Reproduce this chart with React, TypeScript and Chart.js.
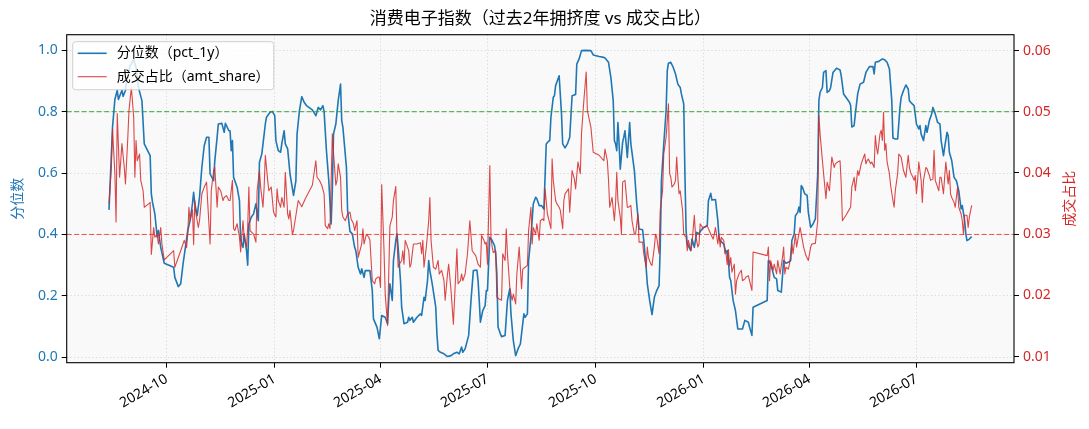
import { useEffect, useRef } from 'react'
import { Chart, registerables } from 'chart.js'

Chart.register(...registerables)

const FONT = "'Noto Sans', 'Noto Sans CJK SC', sans-serif"
const BLUE = '#1f77b4'
const RED = '#d62728'

const chartTitle = '消费电子指数（过去2年拥挤度 vs 成交占比）'
const pctLabel = '分位数（pct_1y）'
const amtLabel = '成交占比（amt_share）'
const leftAxisTitle = '分位数'
const rightAxisTitle = '成交占比'

// axis extents and ticks
const xStart = '2024-07-08'
const xEnd = '2026-09-22'
const tickDates = ['2024-10-01', '2025-01-01', '2025-04-01', '2025-07-01', '2025-10-01', '2026-01-01', '2026-04-01', '2026-07-01']
const tickLabels = ['2024-10', '2025-01', '2025-04', '2025-07', '2025-10', '2026-01', '2026-04', '2026-07']
const leftTicks = [0, 0.2, 0.4, 0.6, 0.8, 1.0]
const rightTicks = [0.01, 0.02, 0.03, 0.04, 0.05, 0.06]
const leftMin = -0.018
const leftMax = 1.051
const rightMin = 0.009
const rightMax = 0.0626
const highLine = 0.8
const lowLine = 0.4

// 分位数 (pct_1y)
const pctDates = [
  '2024-08-13', '2024-08-16', '2024-08-18', '2024-08-20', '2024-08-21', '2024-08-24', '2024-08-25', '2024-08-27', '2024-08-28', '2024-08-31',
  '2024-09-03', '2024-09-05', '2024-09-07', '2024-09-10', '2024-09-12', '2024-09-17', '2024-09-18', '2024-09-19', '2024-09-21', '2024-09-23', '2024-09-24', '2024-09-26', '2024-09-29',
  '2024-10-07', '2024-10-08', '2024-10-11', '2024-10-13', '2024-10-15', '2024-10-17', '2024-10-19', '2024-10-21', '2024-10-23', '2024-10-24', '2024-10-25', '2024-10-27', '2024-10-29', '2024-10-31',
  '2024-11-02', '2024-11-04', '2024-11-06', '2024-11-07', '2024-11-10', '2024-11-11', '2024-11-13', '2024-11-14', '2024-11-17', '2024-11-19', '2024-11-20', '2024-11-23', '2024-11-24', '2024-11-25', '2024-11-26', '2024-11-27', '2024-11-30',
  '2024-12-02', '2024-12-03', '2024-12-05', '2024-12-06', '2024-12-08', '2024-12-09', '2024-12-10', '2024-12-12', '2024-12-14', '2024-12-16', '2024-12-18', '2024-12-19', '2024-12-21', '2024-12-23', '2024-12-24', '2024-12-25', '2024-12-28', '2024-12-30',
  '2025-01-01', '2025-01-02', '2025-01-04', '2025-01-06', '2025-01-07', '2025-01-09', '2025-01-10', '2025-01-12', '2025-01-14', '2025-01-17', '2025-01-19', '2025-01-20', '2025-01-22', '2025-01-24', '2025-01-26', '2025-01-28',
  '2025-02-02', '2025-02-05', '2025-02-07', '2025-02-09', '2025-02-11', '2025-02-12', '2025-02-14', '2025-02-16', '2025-02-18', '2025-02-19', '2025-02-20', '2025-02-22', '2025-02-24', '2025-02-26', '2025-02-27', '2025-02-28',
  '2025-03-03', '2025-03-04', '2025-03-06', '2025-03-08', '2025-03-10', '2025-03-11', '2025-03-13', '2025-03-15', '2025-03-16', '2025-03-18', '2025-03-19', '2025-03-23', '2025-03-25', '2025-03-26', '2025-03-29', '2025-03-31',
  '2025-04-02', '2025-04-05', '2025-04-07', '2025-04-08', '2025-04-09', '2025-04-11', '2025-04-12', '2025-04-14', '2025-04-15', '2025-04-16', '2025-04-18', '2025-04-19', '2025-04-21', '2025-04-24', '2025-04-25', '2025-04-26', '2025-04-28', '2025-04-29',
  '2025-05-02', '2025-05-05', '2025-05-06', '2025-05-08', '2025-05-09', '2025-05-11', '2025-05-12', '2025-05-13', '2025-05-15', '2025-05-18', '2025-05-19', '2025-05-20', '2025-05-22', '2025-05-25', '2025-05-28', '2025-05-31',
  '2025-06-02', '2025-06-05', '2025-06-07', '2025-06-09', '2025-06-10', '2025-06-12', '2025-06-15', '2025-06-17', '2025-06-19', '2025-06-22', '2025-06-23', '2025-06-24', '2025-06-25', '2025-06-27', '2025-06-29', '2025-06-30',
  '2025-07-01', '2025-07-03', '2025-07-05', '2025-07-07', '2025-07-08', '2025-07-09', '2025-07-10', '2025-07-12', '2025-07-13', '2025-07-16', '2025-07-18', '2025-07-20', '2025-07-21', '2025-07-23', '2025-07-25', '2025-07-27', '2025-07-29', '2025-07-30',
  '2025-08-01', '2025-08-02', '2025-08-04', '2025-08-05', '2025-08-07', '2025-08-08', '2025-08-09', '2025-08-11', '2025-08-12', '2025-08-14', '2025-08-16', '2025-08-18', '2025-08-19', '2025-08-20', '2025-08-22', '2025-08-23', '2025-08-24', '2025-08-26', '2025-08-27', '2025-08-28', '2025-08-31',
  '2025-09-02', '2025-09-03', '2025-09-05', '2025-09-07', '2025-09-09', '2025-09-11', '2025-09-14', '2025-09-15', '2025-09-17', '2025-09-19', '2025-09-22', '2025-09-27', '2025-09-29',
  '2025-10-04', '2025-10-08', '2025-10-09', '2025-10-12', '2025-10-14', '2025-10-16', '2025-10-17', '2025-10-18', '2025-10-19', '2025-10-20', '2025-10-21', '2025-10-22', '2025-10-24', '2025-10-25', '2025-10-26', '2025-10-28', '2025-10-30', '2025-10-31',
  '2025-11-03', '2025-11-05', '2025-11-07', '2025-11-10', '2025-11-11', '2025-11-13', '2025-11-14', '2025-11-16', '2025-11-18', '2025-11-20', '2025-11-22', '2025-11-24', '2025-11-25', '2025-11-26', '2025-11-28', '2025-11-30',
  '2025-12-01', '2025-12-02', '2025-12-04', '2025-12-06', '2025-12-08', '2025-12-10', '2025-12-12', '2025-12-13', '2025-12-15', '2025-12-16', '2025-12-17', '2025-12-18', '2025-12-21', '2025-12-22', '2025-12-24', '2025-12-26', '2025-12-28', '2025-12-29',
  '2026-01-01', '2026-01-04', '2026-01-05', '2026-01-07', '2026-01-08', '2026-01-11', '2026-01-13', '2026-01-14', '2026-01-15', '2026-01-18', '2026-01-20', '2026-01-21', '2026-01-22', '2026-01-23', '2026-01-24', '2026-01-26', '2026-01-28', '2026-01-30',
  '2026-02-03', '2026-02-05', '2026-02-08', '2026-02-09', '2026-02-11', '2026-02-12', '2026-02-24', '2026-02-25', '2026-02-27',
  '2026-03-02', '2026-03-04', '2026-03-05', '2026-03-08', '2026-03-10', '2026-03-12', '2026-03-14', '2026-03-16', '2026-03-17', '2026-03-19', '2026-03-20', '2026-03-22', '2026-03-23', '2026-03-24', '2026-03-25', '2026-03-26', '2026-03-28', '2026-03-30', '2026-03-31',
  '2026-04-02', '2026-04-04', '2026-04-06', '2026-04-08', '2026-04-09', '2026-04-10', '2026-04-12', '2026-04-13', '2026-04-15', '2026-04-16', '2026-04-18', '2026-04-19', '2026-04-21', '2026-04-24', '2026-04-27', '2026-04-28', '2026-04-30',
  '2026-05-02', '2026-05-05', '2026-05-06', '2026-05-07', '2026-05-09', '2026-05-10', '2026-05-12', '2026-05-14', '2026-05-17', '2026-05-19', '2026-05-22', '2026-05-25', '2026-05-26', '2026-05-27', '2026-05-30',
  '2026-06-02', '2026-06-04', '2026-06-06', '2026-06-08', '2026-06-10', '2026-06-11', '2026-06-13', '2026-06-15', '2026-06-17', '2026-06-18', '2026-06-20', '2026-06-22', '2026-06-24', '2026-06-25', '2026-06-27', '2026-06-29',
  '2026-07-01', '2026-07-03', '2026-07-04', '2026-07-05', '2026-07-07', '2026-07-09', '2026-07-10', '2026-07-12', '2026-07-14', '2026-07-15', '2026-07-17', '2026-07-19', '2026-07-21', '2026-07-22', '2026-07-24', '2026-07-25', '2026-07-27', '2026-07-28', '2026-07-29', '2026-07-31',
  '2026-08-02', '2026-08-04', '2026-08-06', '2026-08-08', '2026-08-09', '2026-08-11', '2026-08-12', '2026-08-13', '2026-08-15', '2026-08-17',
]
const pctValues = [
  0.48, 0.75, 0.84, 0.87, 0.84, 0.87, 0.85, 0.87, 0.90, 0.95,
  0.97, 0.945, 0.88, 0.836, 0.695, 0.657, 0.532, 0.505, 0.467, 0.391, 0.413, 0.358, 0.306,
  0.293, 0.26, 0.23, 0.239, 0.304, 0.358, 0.413, 0.445, 0.50, 0.537, 0.50, 0.461, 0.521, 0.619,
  0.689, 0.717, 0.717, 0.597, 0.575, 0.64, 0.717, 0.76, 0.762, 0.733, 0.762, 0.738, 0.738, 0.673, 0.706, 0.586, 0.554,
  0.51, 0.38, 0.358, 0.402, 0.347, 0.30, 0.434, 0.456, 0.467, 0.50, 0.445, 0.635, 0.662, 0.727, 0.76, 0.782, 0.798, 0.801,
  0.787, 0.706, 0.673, 0.668, 0.695, 0.738, 0.695, 0.679, 0.597, 0.527, 0.575, 0.727, 0.803, 0.849, 0.831, 0.82,
  0.806, 0.787, 0.814, 0.806, 0.82, 0.801, 0.673, 0.575, 0.434, 0.543, 0.727, 0.76, 0.836, 0.89, 0.771, 0.749,
  0.619, 0.478, 0.41, 0.402, 0.358, 0.347, 0.293, 0.271, 0.288, 0.26, 0.282, 0.282, 0.217, 0.125, 0.098, 0.06,
  0.136, 0.13, 0.109, 0.185, 0.239, 0.185, 0.315, 0.38, 0.402, 0.358, 0.25, 0.163, 0.109, 0.114, 0.13, 0.12, 0.13, 0.114,
  0.13, 0.141, 0.136, 0.195, 0.185, 0.25, 0.315, 0.282, 0.239, 0.163, 0.076, 0.022, 0.016, 0.011, 0.002, 0.005,
  0.011, 0.016, 0.011, 0.033, 0.016, 0.027, 0.071, 0.185, 0.282, 0.284, 0.25, 0.185, 0.114, 0.152, 0.168, 0.217,
  0.217, 0.391, 0.38, 0.364, 0.337, 0.271, 0.098, 0.076, 0.067, 0.071, 0.185, 0.223, 0.141, 0.054, 0.005, 0.027, 0.043, 0.076,
  0.141, 0.13, 0.141, 0.315, 0.391, 0.445, 0.50, 0.521, 0.516, 0.494, 0.494, 0.483, 0.586, 0.695, 0.704, 0.706, 0.782, 0.847, 0.852, 0.885, 0.917,
  0.793, 0.695, 0.682, 0.695, 0.717, 0.852, 0.856, 0.955, 0.972, 0.999, 1.0, 0.999, 0.985,
  0.98, 0.977, 0.975, 0.961, 0.912, 0.836, 0.706, 0.695, 0.673, 0.765, 0.695, 0.613, 0.70, 0.717, 0.738, 0.651, 0.765, 0.695,
  0.608, 0.50, 0.418, 0.415, 0.38, 0.293, 0.239, 0.185, 0.139, 0.195, 0.217, 0.233, 0.358, 0.575, 0.695, 0.803,
  0.934, 0.958, 0.961, 0.945, 0.923, 0.89, 0.879, 0.858, 0.825, 0.597, 0.413, 0.369, 0.347, 0.385, 0.358, 0.407, 0.402, 0.41,
  0.423, 0.429, 0.51, 0.534, 0.512, 0.514, 0.445, 0.391, 0.38, 0.369, 0.34, 0.347, 0.315, 0.26, 0.25, 0.185, 0.152, 0.092,
  0.092, 0.12, 0.114, 0.098, 0.071, 0.163, 0.185, 0.315, 0.304,
  0.26, 0.255, 0.217, 0.212, 0.315, 0.306, 0.309, 0.315, 0.38, 0.402, 0.461, 0.472, 0.489, 0.472, 0.559, 0.554, 0.532, 0.527, 0.472,
  0.423, 0.434, 0.451, 0.597, 0.836, 0.863, 0.879, 0.928, 0.934, 0.863, 0.869, 0.879, 0.928, 0.942, 0.936, 0.917, 0.858,
  0.847, 0.831, 0.82, 0.75, 0.755, 0.793, 0.858, 0.89, 0.896, 0.928, 0.947, 0.947, 0.923, 0.961, 0.964,
  0.972, 0.969, 0.961, 0.939, 0.836, 0.714, 0.711, 0.711, 0.814, 0.847, 0.869, 0.887, 0.874, 0.836, 0.827, 0.82,
  0.76, 0.744, 0.755, 0.727, 0.706, 0.755, 0.733, 0.771, 0.793, 0.814, 0.793, 0.765, 0.76, 0.706, 0.657, 0.684, 0.733, 0.722, 0.668, 0.641,
  0.586, 0.575, 0.543, 0.483, 0.494, 0.445, 0.402, 0.38, 0.385, 0.393,
]

// 成交占比 (amt_share)
const amtDates = [
  '2024-08-13', '2024-08-15', '2024-08-16', '2024-08-18', '2024-08-19', '2024-08-20', '2024-08-22', '2024-08-24', '2024-08-26', '2024-08-27', '2024-08-29', '2024-08-30',
  '2024-09-01', '2024-09-03', '2024-09-04', '2024-09-05', '2024-09-06', '2024-09-08', '2024-09-09', '2024-09-11', '2024-09-12', '2024-09-14', '2024-09-16', '2024-09-17', '2024-09-18', '2024-09-20', '2024-09-21', '2024-09-23', '2024-09-24', '2024-09-26', '2024-09-27', '2024-09-29',
  '2024-10-07', '2024-10-08', '2024-10-13', '2024-10-16', '2024-10-18', '2024-10-19', '2024-10-20', '2024-10-21', '2024-10-23', '2024-10-24', '2024-10-25', '2024-10-26', '2024-10-28', '2024-10-29', '2024-10-31',
  '2024-11-02', '2024-11-04', '2024-11-06', '2024-11-07', '2024-11-08', '2024-11-10', '2024-11-11', '2024-11-13', '2024-11-14', '2024-11-16', '2024-11-18', '2024-11-19', '2024-11-21', '2024-11-23', '2024-11-24', '2024-11-26', '2024-11-27', '2024-11-28', '2024-11-30',
  '2024-12-02', '2024-12-03', '2024-12-05', '2024-12-06', '2024-12-08', '2024-12-09', '2024-12-10', '2024-12-11', '2024-12-14', '2024-12-16', '2024-12-17', '2024-12-19', '2024-12-20', '2024-12-22', '2024-12-23', '2024-12-24', '2024-12-26', '2024-12-27', '2024-12-29', '2024-12-31',
  '2025-01-02', '2025-01-03', '2025-01-04', '2025-01-06', '2025-01-07', '2025-01-09', '2025-01-10', '2025-01-12', '2025-01-13', '2025-01-14', '2025-01-16', '2025-01-17', '2025-01-21', '2025-01-24', '2025-01-27',
  '2025-02-02', '2025-02-05', '2025-02-06', '2025-02-08', '2025-02-10', '2025-02-12', '2025-02-13', '2025-02-15', '2025-02-16', '2025-02-17', '2025-02-19', '2025-02-20', '2025-02-22', '2025-02-23', '2025-02-24', '2025-02-26', '2025-02-27', '2025-02-28',
  '2025-03-02', '2025-03-04', '2025-03-06', '2025-03-07', '2025-03-09', '2025-03-10', '2025-03-12', '2025-03-13', '2025-03-16', '2025-03-17', '2025-03-18', '2025-03-20', '2025-03-22', '2025-03-23', '2025-03-25', '2025-03-27', '2025-03-28', '2025-03-30', '2025-03-31',
  '2025-04-01', '2025-04-02', '2025-04-04', '2025-04-05', '2025-04-07', '2025-04-08', '2025-04-09', '2025-04-11', '2025-04-12', '2025-04-14', '2025-04-15', '2025-04-16', '2025-04-17', '2025-04-19', '2025-04-20', '2025-04-21', '2025-04-22', '2025-04-24', '2025-04-25', '2025-04-26', '2025-04-27', '2025-04-29',
  '2025-05-02', '2025-05-05', '2025-05-06', '2025-05-07', '2025-05-08', '2025-05-10', '2025-05-12', '2025-05-13', '2025-05-14', '2025-05-16', '2025-05-18', '2025-05-20', '2025-05-21', '2025-05-23', '2025-05-25', '2025-05-26', '2025-05-28', '2025-05-29', '2025-05-31',
  '2025-06-02', '2025-06-05', '2025-06-06', '2025-06-08', '2025-06-09', '2025-06-10', '2025-06-12', '2025-06-14', '2025-06-16', '2025-06-18', '2025-06-21', '2025-06-23', '2025-06-25', '2025-06-26', '2025-06-28', '2025-06-29', '2025-06-30',
  '2025-07-01', '2025-07-03', '2025-07-04', '2025-07-05', '2025-07-06', '2025-07-08', '2025-07-09', '2025-07-11', '2025-07-13', '2025-07-14', '2025-07-16', '2025-07-17', '2025-07-18', '2025-07-20', '2025-07-22', '2025-07-23', '2025-07-25', '2025-07-26', '2025-07-28', '2025-07-30', '2025-07-31',
  '2025-08-02', '2025-08-04', '2025-08-05', '2025-08-07', '2025-08-08', '2025-08-09', '2025-08-11', '2025-08-12', '2025-08-14', '2025-08-15', '2025-08-17', '2025-08-18', '2025-08-19', '2025-08-21', '2025-08-22', '2025-08-24', '2025-08-25', '2025-08-26', '2025-08-28', '2025-08-29', '2025-08-31',
  '2025-09-01', '2025-09-03', '2025-09-04', '2025-09-05', '2025-09-08', '2025-09-09', '2025-09-11', '2025-09-13', '2025-09-14', '2025-09-16', '2025-09-18', '2025-09-19', '2025-09-21', '2025-09-23', '2025-09-24', '2025-09-27', '2025-09-29',
  '2025-10-04', '2025-10-08', '2025-10-09', '2025-10-11', '2025-10-12', '2025-10-13', '2025-10-15', '2025-10-17', '2025-10-18', '2025-10-19', '2025-10-20', '2025-10-22', '2025-10-23', '2025-10-24', '2025-10-26', '2025-10-28', '2025-10-29', '2025-10-31',
  '2025-11-01', '2025-11-03', '2025-11-04', '2025-11-06', '2025-11-07', '2025-11-08', '2025-11-10', '2025-11-11', '2025-11-13', '2025-11-14', '2025-11-15', '2025-11-17', '2025-11-18', '2025-11-20', '2025-11-21', '2025-11-22', '2025-11-24', '2025-11-25', '2025-11-27', '2025-11-28', '2025-11-30',
  '2025-12-01', '2025-12-02', '2025-12-03', '2025-12-04', '2025-12-05', '2025-12-07', '2025-12-08', '2025-12-09', '2025-12-10', '2025-12-11', '2025-12-12', '2025-12-14', '2025-12-15', '2025-12-17', '2025-12-18', '2025-12-19', '2025-12-21', '2025-12-22', '2025-12-24', '2025-12-25', '2025-12-27', '2025-12-28', '2025-12-29', '2025-12-31',
  '2026-01-02', '2026-01-04', '2026-01-05', '2026-01-07', '2026-01-09', '2026-01-10', '2026-01-11', '2026-01-13', '2026-01-14', '2026-01-15', '2026-01-16', '2026-01-18', '2026-01-19', '2026-01-20', '2026-01-21', '2026-01-22', '2026-01-23', '2026-01-24', '2026-01-25', '2026-01-27', '2026-01-28', '2026-01-29', '2026-01-31',
  '2026-02-02', '2026-02-03', '2026-02-05', '2026-02-06', '2026-02-08', '2026-02-11', '2026-02-12', '2026-02-24', '2026-02-25', '2026-02-26', '2026-02-27',
  '2026-03-01', '2026-03-02', '2026-03-04', '2026-03-05', '2026-03-06', '2026-03-07', '2026-03-09', '2026-03-10', '2026-03-11', '2026-03-12', '2026-03-14', '2026-03-15', '2026-03-17', '2026-03-18', '2026-03-20', '2026-03-21', '2026-03-22', '2026-03-24', '2026-03-25', '2026-03-27', '2026-03-29', '2026-03-31',
  '2026-04-02', '2026-04-03', '2026-04-06', '2026-04-08', '2026-04-09', '2026-04-10', '2026-04-12', '2026-04-13', '2026-04-15', '2026-04-16', '2026-04-18', '2026-04-19', '2026-04-20', '2026-04-22', '2026-04-23', '2026-04-25', '2026-04-27', '2026-04-28', '2026-04-29',
  '2026-05-02', '2026-05-05', '2026-05-06', '2026-05-07', '2026-05-09', '2026-05-10', '2026-05-12', '2026-05-13', '2026-05-15', '2026-05-18', '2026-05-19', '2026-05-20', '2026-05-21', '2026-05-23', '2026-05-24', '2026-05-26', '2026-05-27', '2026-05-28', '2026-05-29', '2026-05-31',
  '2026-06-01', '2026-06-02', '2026-06-03', '2026-06-04', '2026-06-05', '2026-06-06', '2026-06-08', '2026-06-09', '2026-06-11', '2026-06-12', '2026-06-13', '2026-06-15', '2026-06-16', '2026-06-18', '2026-06-19', '2026-06-20', '2026-06-22', '2026-06-24', '2026-06-25', '2026-06-26', '2026-06-28', '2026-06-29', '2026-06-30',
  '2026-07-01', '2026-07-02', '2026-07-03', '2026-07-05', '2026-07-06', '2026-07-07', '2026-07-09', '2026-07-10', '2026-07-12', '2026-07-13', '2026-07-15', '2026-07-16', '2026-07-17', '2026-07-19', '2026-07-20', '2026-07-21', '2026-07-22', '2026-07-24', '2026-07-25', '2026-07-26', '2026-07-27', '2026-07-28', '2026-07-29', '2026-07-30', '2026-07-31',
  '2026-08-02', '2026-08-03', '2026-08-05', '2026-08-06', '2026-08-08', '2026-08-09', '2026-08-10', '2026-08-11', '2026-08-13', '2026-08-14', '2026-08-15', '2026-08-17',
]
const amtValues = [
  0.035, 0.0409, 0.0472, 0.0399, 0.032, 0.0497, 0.0393, 0.0448, 0.0409, 0.0382, 0.0458, 0.0502,
  0.054, 0.0491, 0.0393, 0.0453, 0.042, 0.0431, 0.0388, 0.0371, 0.0344, 0.0347, 0.035, 0.0352, 0.0267, 0.0311, 0.0295, 0.030, 0.0284, 0.0311, 0.0284, 0.0258,
  0.0273, 0.0246, 0.0273, 0.029, 0.0278, 0.030, 0.0344, 0.0322, 0.034, 0.0283, 0.0355, 0.0333, 0.0311, 0.0322, 0.0366,
  0.0377, 0.0385, 0.0317, 0.0284, 0.0371, 0.0404, 0.0409, 0.0344, 0.0377, 0.0371, 0.0355, 0.036, 0.0363, 0.0355, 0.0355, 0.0388, 0.0309, 0.0306, 0.0317,
  0.0295, 0.0271, 0.0322, 0.0295, 0.0279, 0.0311, 0.0377, 0.0306, 0.030, 0.0287, 0.0371, 0.0404, 0.0377, 0.0344, 0.0377, 0.0429, 0.0388, 0.0371, 0.0377, 0.0336,
  0.0328, 0.0374, 0.0355, 0.0344, 0.036, 0.0344, 0.0401, 0.0333, 0.0325, 0.0339, 0.030, 0.0306, 0.0355, 0.0345, 0.0358,
  0.038, 0.042, 0.0393, 0.0388, 0.038, 0.0366, 0.0314, 0.0309, 0.0317, 0.0309, 0.0464, 0.0434, 0.038, 0.0388, 0.0415, 0.0393, 0.0339, 0.0328,
  0.0322, 0.0333, 0.0336, 0.0325, 0.0317, 0.0306, 0.0322, 0.0262, 0.0284, 0.0309, 0.0284, 0.030, 0.0295, 0.029, 0.0224, 0.0219, 0.0227, 0.023, 0.023,
  0.0213, 0.0381, 0.0273, 0.0202, 0.0151, 0.0235, 0.0314, 0.0328, 0.0355, 0.0378, 0.0295, 0.0246, 0.0251, 0.0257, 0.0273, 0.0251, 0.029, 0.0279, 0.0273, 0.0246, 0.0251, 0.0284,
  0.0284, 0.0286, 0.0268, 0.029, 0.0246, 0.0279, 0.0322, 0.036, 0.029, 0.0246, 0.0243, 0.0257, 0.0235, 0.0241, 0.0224, 0.0192, 0.0235, 0.0251, 0.0208,
  0.0153, 0.0276, 0.0219, 0.0224, 0.0235, 0.0224, 0.0235, 0.0268, 0.0322, 0.0273, 0.0265, 0.0251, 0.0246, 0.0298, 0.029, 0.0284, 0.0287,
  0.0251, 0.0412, 0.0295, 0.0279, 0.027, 0.0273, 0.0197, 0.0194, 0.0192, 0.0268, 0.0257, 0.0309, 0.0268, 0.0213, 0.0192, 0.0202, 0.0186, 0.0235, 0.0279, 0.0211, 0.0243,
  0.0246, 0.0249, 0.0306, 0.0344, 0.0284, 0.0311, 0.030, 0.0317, 0.029, 0.0322, 0.0325, 0.0322, 0.0374, 0.0333, 0.0325, 0.0309, 0.0423, 0.0388, 0.0355, 0.035, 0.0344,
  0.0339, 0.0309, 0.0355, 0.0366, 0.0374, 0.0336, 0.0404, 0.039, 0.0374, 0.0418, 0.0399, 0.0464, 0.0518, 0.0565, 0.0502, 0.0475, 0.0434,
  0.0429, 0.042, 0.0439, 0.042, 0.0388, 0.0344, 0.036, 0.0322, 0.035, 0.0401, 0.0355, 0.0328, 0.030, 0.0385, 0.0388, 0.0344, 0.0344, 0.0347,
  0.0322, 0.030, 0.030, 0.0333, 0.0287, 0.0287, 0.0287, 0.0268, 0.0246, 0.0279, 0.0262, 0.0251, 0.0249, 0.0279, 0.030, 0.0295, 0.0268, 0.0339, 0.0371, 0.0431, 0.0458,
  0.0486, 0.0513, 0.0399, 0.0393, 0.0377, 0.0382, 0.0388, 0.0426, 0.0393, 0.0366, 0.0371, 0.0339, 0.030, 0.0295, 0.0273, 0.029, 0.0273, 0.0284, 0.0331, 0.030, 0.0279, 0.0284, 0.0317, 0.0311,
  0.0311, 0.0314, 0.0309, 0.030, 0.0292, 0.030, 0.0311, 0.0284, 0.030, 0.0279, 0.0295, 0.029, 0.0268, 0.0268, 0.025, 0.0275, 0.0248, 0.0262, 0.0238, 0.0251, 0.0202, 0.0224, 0.0235,
  0.0241, 0.0224, 0.0227, 0.023, 0.0232, 0.0208, 0.0271, 0.0265, 0.0279, 0.0224, 0.0257,
  0.0241, 0.0251, 0.0235, 0.0257, 0.0246, 0.0235, 0.0262, 0.0279, 0.0235, 0.0246, 0.0243, 0.0251, 0.0284, 0.0268, 0.030, 0.0279, 0.029, 0.0311, 0.030, 0.0279, 0.0265, 0.0257,
  0.0279, 0.0284, 0.0285, 0.0322, 0.0494, 0.0464, 0.042, 0.0399, 0.0358, 0.0385, 0.0371, 0.0399, 0.0426, 0.0409, 0.0415, 0.0418, 0.042, 0.0382, 0.0322,
  0.0331, 0.0341, 0.0344, 0.0377, 0.0393, 0.0371, 0.0404, 0.0396, 0.0415, 0.0431, 0.0415, 0.042, 0.0423, 0.0415, 0.0418, 0.0409, 0.0461, 0.0442, 0.0431, 0.0464,
  0.047, 0.0453, 0.0499, 0.0437, 0.0448, 0.0418, 0.0399, 0.038, 0.0355, 0.0344, 0.0371, 0.0399, 0.0431, 0.0426, 0.0415, 0.0404, 0.0393, 0.0429, 0.0409, 0.0401, 0.0393, 0.0388, 0.0396,
  0.0366, 0.0388, 0.0418, 0.0388, 0.0352, 0.0388, 0.0409, 0.0407, 0.0396, 0.0388, 0.039, 0.0437, 0.0388, 0.0377, 0.0371, 0.0393, 0.0393, 0.0366, 0.0393, 0.0418, 0.0399, 0.0382, 0.0404, 0.0366, 0.036,
  0.0352, 0.0344, 0.0377, 0.0344, 0.0333, 0.0322, 0.030, 0.0331, 0.0331, 0.0311, 0.0328, 0.0347,
]

const toPoints = (dates: string[], values: number[]) =>
  dates.map((d, i) => ({ x: Date.parse(d), y: values[i] }))

const hLine = (y: number) => [
  { x: Date.parse(xStart), y },
  { x: Date.parse(xEnd), y },
]

const AMT_COLOR = 'rgba(214,39,40,0.85)'

// background, frame, title, axis titles and the in-plot legend
const decorPlugin = {
  id: 'decor',
  beforeDraw(chart: any) {
    const { ctx, chartArea: a, width, height } = chart
    ctx.save()
    ctx.fillStyle = '#ffffff'
    ctx.fillRect(0, 0, width, height)
    ctx.fillStyle = '#f9f9f9'
    ctx.fillRect(a.left, a.top, a.right - a.left, a.bottom - a.top)
    ctx.restore()
  },
  afterDraw(chart: any) {
    const { ctx, chartArea: a } = chart
    ctx.save()
    ctx.strokeStyle = '#000'
    ctx.lineWidth = 1.1
    ctx.strokeRect(a.left, a.top, a.right - a.left, a.bottom - a.top)

    ctx.fillStyle = '#000'
    ctx.font = `17px ${FONT}`
    ctx.textAlign = 'center'
    ctx.textBaseline = 'middle'
    ctx.fillText(chartTitle, (a.left + a.right) / 2, 19)

    const midY = (a.top + a.bottom) / 2
    ctx.font = `14px ${FONT}`
    ctx.save()
    ctx.translate(18.5, midY)
    ctx.rotate(-Math.PI / 2)
    ctx.fillStyle = BLUE
    ctx.fillText(leftAxisTitle, 0, 0)
    ctx.restore()
    ctx.save()
    ctx.translate(1070.5, midY)
    ctx.rotate(-Math.PI / 2)
    ctx.fillStyle = RED
    ctx.fillText(rightAxisTitle, 0, 0)
    ctx.restore()

    // legend box
    const lx = a.left + 6
    const ly = a.top + 7
    ctx.beginPath()
    ctx.roundRect(lx, ly, 201, 48, 3)
    ctx.fillStyle = 'rgba(255,255,255,0.8)'
    ctx.fill()
    ctx.strokeStyle = '#d0d0d0'
    ctx.lineWidth = 1
    ctx.stroke()
    const rows = [
      { text: pctLabel, color: BLUE, width: 1.6, y: ly + 11.6 },
      { text: amtLabel, color: AMT_COLOR, width: 1.1, y: ly + 35 },
    ]
    ctx.textAlign = 'left'
    rows.forEach((r) => {
      ctx.beginPath()
      ctx.moveTo(lx + 5, r.y)
      ctx.lineTo(lx + 34, r.y)
      ctx.strokeStyle = r.color
      ctx.lineWidth = r.width
      ctx.stroke()
      ctx.fillStyle = '#000'
      ctx.fillText(r.text, lx + 44, r.y)
    })
    ctx.restore()
  },
}

const gridDash = [1.2, 2.4]

export default function App() {
  const chartRef = useRef<HTMLCanvasElement>(null)
  const chartInstance = useRef<Chart | null>(null)

  useEffect(() => {
    if (!chartRef.current) return
    if (chartInstance.current) chartInstance.current.destroy()

    chartInstance.current = new Chart(chartRef.current, {
      type: 'line',
      data: {
        datasets: [
          {
            label: amtLabel,
            data: toPoints(amtDates, amtValues),
            yAxisID: 'y1',
            borderColor: AMT_COLOR,
            borderWidth: 1.1,
            borderJoinStyle: 'round',
            pointRadius: 0,
            order: 0,
          },
          {
            label: 'high',
            data: hLine(highLine),
            yAxisID: 'y',
            borderColor: 'rgba(44,160,44,0.95)',
            borderWidth: 1,
            borderDash: [5, 2.5],
            pointRadius: 0,
            order: 1,
          },
          {
            label: 'low',
            data: hLine(lowLine),
            yAxisID: 'y',
            borderColor: 'rgba(240,60,60,0.9)',
            borderWidth: 1,
            borderDash: [5, 2.5],
            pointRadius: 0,
            order: 1,
          },
          {
            label: pctLabel,
            data: toPoints(pctDates, pctValues),
            yAxisID: 'y',
            borderColor: BLUE,
            borderWidth: 1.6,
            borderJoinStyle: 'round',
            pointRadius: 0,
            order: 2,
          },
        ],
      } as any,
      options: {
        animation: false,
        responsive: false,
        events: [],
        layout: { padding: { top: 34.7, left: 0, right: 0, bottom: 0 } },
        plugins: {
          legend: { display: false },
          tooltip: { enabled: false },
          title: { display: false },
        },
        scales: {
          x: {
            type: 'linear',
            min: Date.parse(xStart),
            max: Date.parse(xEnd),
            afterFit: (scale: any) => {
              scale.height = 66.3
            },
            afterBuildTicks: (scale: any) => {
              scale.ticks = tickDates.map((d) => ({ value: Date.parse(d) }))
            },
            ticks: {
              autoSkip: false,
              minRotation: 30,
              maxRotation: 30,
              padding: 3,
              color: '#000',
              font: { family: FONT, size: 14 },
              callback: (_v: any, i: number) => tickLabels[i],
            },
            grid: {
              color: '#cfcfcf',
              lineWidth: 0.8,
              tickLength: 5,
              tickColor: '#000',
              tickWidth: 1,
            },
            border: { display: false, dash: gridDash },
          },
          y: {
            type: 'linear',
            position: 'left',
            min: leftMin,
            max: leftMax,
            afterFit: (scale: any) => {
              scale.width = 66.7
            },
            afterBuildTicks: (scale: any) => {
              scale.ticks = leftTicks.map((v) => ({ value: v }))
            },
            ticks: {
              padding: 4,
              color: BLUE,
              font: { family: FONT, size: 14 },
              callback: (v: any) => Number(v).toFixed(1),
            },
            grid: {
              color: '#cfcfcf',
              lineWidth: 0.8,
              tickLength: 5,
              tickColor: '#000',
              tickWidth: 1,
            },
            border: { display: false, dash: gridDash },
          },
          y1: {
            type: 'linear',
            position: 'right',
            min: rightMin,
            max: rightMax,
            afterFit: (scale: any) => {
              scale.width = 75
            },
            afterBuildTicks: (scale: any) => {
              scale.ticks = rightTicks.map((v) => ({ value: v }))
            },
            ticks: {
              padding: 4,
              color: RED,
              font: { family: FONT, size: 14 },
              callback: (v: any) => Number(v).toFixed(2),
            },
            grid: {
              drawOnChartArea: false,
              tickLength: 5,
              tickColor: '#000',
              tickWidth: 1,
            },
            border: { display: false },
          },
        },
      } as any,
      plugins: [decorPlugin],
    })

    return () => {
      if (chartInstance.current) {
        chartInstance.current.destroy()
        chartInstance.current = null
      }
    }
  }, [])

  return (
    <div style={{ position: 'absolute', left: 0, top: 0, width: 1089, height: 429 }}>
      <canvas ref={chartRef} width={1089} height={429} />
    </div>
  )
}
